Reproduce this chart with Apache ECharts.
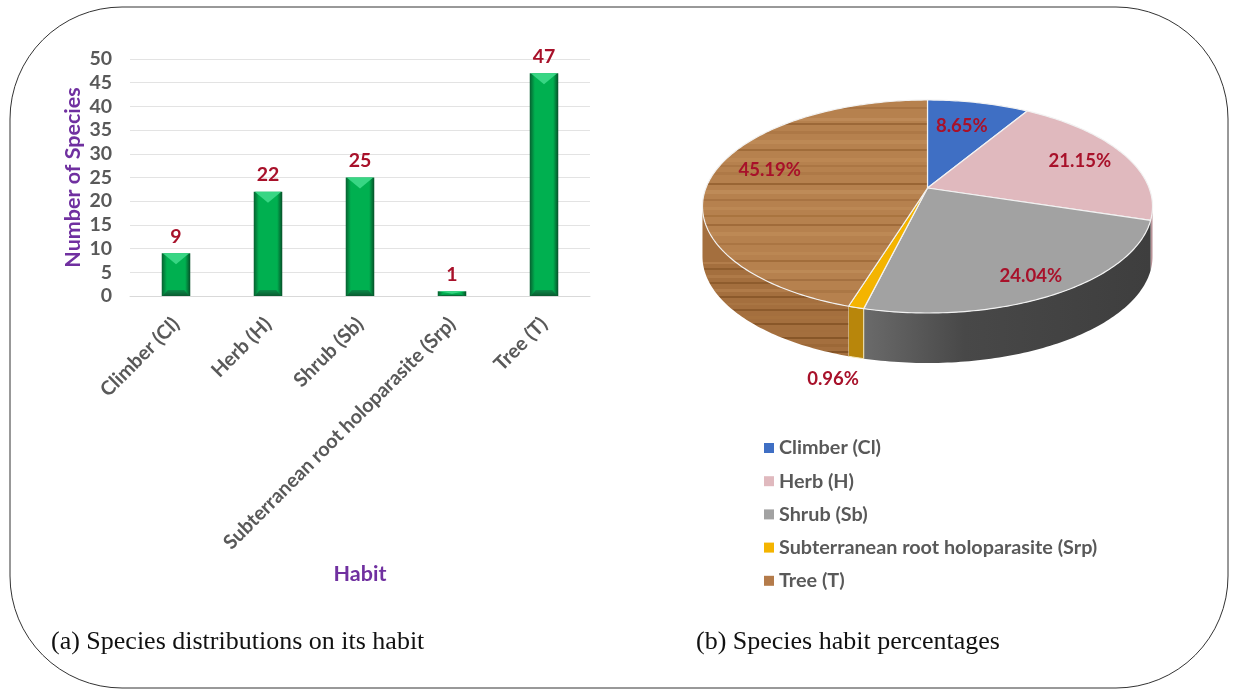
<!DOCTYPE html>
<html>
<head>
<meta charset="utf-8">
<style>html,body{margin:0;padding:0;background:#fff}#c{width:1238px;height:690px}</style>
<script src="https://cdn.jsdelivr.net/npm/echarts@6/dist/echarts.min.js"></script>
</head>
<body>
<div id="c"></div>
<script>
const categories = ['Climber (Cl)', 'Herb (H)', 'Shrub (Sb)', 'Subterranean root holoparasite (Srp)', 'Tree (T)'];
const speciesCounts = [9, 22, 25, 1, 47];
const habitPercents = [8.65, 21.15, 24.04, 0.96, 45.19];
const percentLabels = ['8.65%', '21.15%', '24.04%', '0.96%', '45.19%'];
const yTicks = {min: 0, max: 50, interval: 5};

const FONT = 'Lato';
const GREY = '#595959', PURPLE = '#7030A0', RED = '#A8112A';
const sliceColors = ['#3F6FC4', '#E0B9BE', '#A2A2A2', '#F4B400', '#B47B4A'];
const L = (x0, y0, x1, y1, st) => new echarts.graphic.LinearGradient(x0, y0, x1, y1, st, true);

// Wood grain: hard-edged thin lines over a base colour
function grain(y0, y1, base, lines) {
  const span = y1 - y0, stops = [{offset: 0, color: base}];
  lines.forEach(l => {
    const a = (l[0] - y0) / span, b = (l[0] + l[1] - y0) / span;
    stops.push({offset: a, color: base}, {offset: a + .001, color: l[2]}, {offset: b, color: l[2]}, {offset: b + .001, color: base});
  });
  stops.push({offset: 1, color: base});
  return L(0, y0, 0, y1, stops);
}
const woodTop = grain(100, 313, '#B6814E', [
  [107, 2, '#A97443'], [118, 3, '#BE8A58'], [123, 2, '#9C6838'], [131, 3, '#AD7846'], [140, 4, '#BD8955'], [149, 2, '#A06C3A'],
  [158, 4, '#BC8753'], [165, 2, '#AB7644'], [172, 3, '#AE7947'], [183, 2, '#996534'], [190, 4, '#BE8B58'], [199, 2, '#A87342'],
  [207, 3, '#BC8854'], [215, 2, '#A9743F'], [224, 2, '#A06B3A'], [232, 4, '#BD8955'], [243, 2, '#AA7543'], [252, 3, '#BB8753'],
  [260, 2, '#A26D3B'], [270, 3, '#BD8A56'], [279, 2, '#A47040'], [290, 3, '#AB7745']
]);
const woodSide = grain(222, 360, '#A46F3E', [
  [262, 2, '#B27D4B'], [268, 2, '#8F5D2E'], [275, 3, '#AF7A48'], [282, 2, '#8E5C2D'], [289, 3, '#B07B49'], [296, 2, '#8B592B'],
  [303, 2, '#A97543'], [309, 2, '#8C5A2C'], [316, 3, '#A7723F'], [323, 2, '#895729'], [330, 2, '#A36E3D'], [337, 2, '#875628'],
  [344, 3, '#9C6837'], [351, 2, '#855427']
]);
const topFills = [sliceColors[0], sliceColors[1], sliceColors[2], sliceColors[3], woodTop];
const sideFills = ['#3558A0', '#B99398', L(865, 0, 1150, 0, [{offset: 0, color: '#6A6A6A'}, {offset: .35, color: '#484848'}, {offset: 1, color: '#3E3E3E'}]), '#B8860B', woodSide];
const labelPlace = [[.7, -3, 0], [.77, 0, 0], [.83, 0, 3], [1, -23, 72], [.72, -3, -7]];

// 3D pie projection parameters
const P = {cx: 927.5, cy: 188, a: 221.6, b: 103.3, k: 0.1737, depth: 50};
function proj(theta, r) {
  const u = Math.sin(theta) * r, v = Math.cos(theta) * r, d = 1 + P.k * v;
  return [P.cx + P.a * u / d, P.cy - P.b * v / d];
}
function arc(t0, t1, dy) {
  const n = Math.max(2, Math.ceil(Math.abs(t1 - t0) * 60)), pts = [];
  for (let i = 0; i <= n; i++) {
    const p = proj(t0 + (t1 - t0) * i / n, 1);
    pts.push([p[0], p[1] + dy]);
  }
  return pts;
}
const total = habitPercents.reduce((a, b) => a + b, 0);
const starts = habitPercents.map((_, i) => habitPercents.slice(0, i).reduce((a, b) => a + b, 0));
const FRONT0 = 100 * Math.PI / 180, FRONT1 = 260 * Math.PI / 180;

function sliceRenderer(i) {
  return function (params, api) {
    const t0 = starts[i] / total * 2 * Math.PI;
    const t1 = t0 + api.value(0) / total * 2 * Math.PI;
    const children = [];
    const w0 = Math.max(t0, FRONT0), w1 = Math.min(t1, FRONT1);
    if (w1 > w0) {
      const pts = arc(w0, w1, 0).concat(arc(w1, w0, P.depth));
      children.push({type: 'polygon', shape: {points: pts}, style: {fill: sideFills[i], stroke: i === 3 ? '#F3E9C0' : null, lineWidth: 1}});
    }
    const pts = [[P.cx, P.cy]].concat(arc(t0, t1, 0));
    children.push({type: 'polygon', shape: {points: pts}, style: {fill: topFills[i], stroke: '#F2F2F2', lineWidth: 1.2, lineJoin: 'round'}});
    const lp = labelPlace[i], m = proj((t0 + t1) / 2, lp[0]);
    children.push({type: 'text', style: {x: m[0] + lp[1], y: m[1] + lp[2], text: percentLabels[i], fill: RED,
      font: 'bold 18.5px ' + FONT, align: 'center', verticalAlign: 'middle'}});
    return {type: 'group', children};
  };
}

function bevelRenderer(params, api) {
  const top = api.coord([api.value(0), api.value(1)]);
  const base = api.coord([api.value(0), 0]);
  const w = api.size([1, 0])[0] * 0.31, xl = top[0] - w / 2, xr = top[0] + w / 2;
  const h = base[1] - top[1], d = Math.min(11, h / 2), b = Math.min(6, h / 3);
  return {type: 'group', children: [
    {type: 'polygon', shape: {points: [[xl + 1, top[1]], [xr - 1, top[1]], [top[0], top[1] + d]]}, style: {fill: '#38D684'}},
    {type: 'polygon', shape: {points: [[xl + 1, base[1]], [xr - 1, base[1]], [xr - 6, base[1] - b], [xl + 6, base[1] - b]]},
      style: {fill: L(0, base[1] - b, 0, base[1], [{offset: 0, color: '#0A8A48'}, {offset: 1, color: '#0A5A30'}])}}
  ]};
}

const sliceSeries = categories.map((name, i) => ({
  type: 'custom', name, coordinateSystem: 'none', silent: true, z: 3,
  itemStyle: {color: sliceColors[i]},
  data: [[habitPercents[i]]],
  renderItem: sliceRenderer(i)
}));

const chart = echarts.init(document.getElementById('c'), null, {renderer: 'canvas'});
chart.setOption({
  animation: false,
  backgroundColor: '#fff',
  textStyle: {fontFamily: FONT},
  graphic: [
    {type: 'rect', shape: {x: 10, y: 7, width: 1218, height: 681, r: 112}, style: {fill: 'none', stroke: '#333', lineWidth: 1}, silent: true, z: 0},
    {type: 'text', x: 51, y: 642, style: {text: '(a) Species distributions on its habit', font: '26px "Liberation Serif"', fill: '#111', verticalAlign: 'middle'}, silent: true},
    {type: 'text', x: 696, y: 642, style: {text: '(b) Species habit percentages', font: '26px "Liberation Serif"', fill: '#111', verticalAlign: 'middle'}, silent: true}
  ],
  grid: {left: 130, top: 59, width: 460, height: 237, containLabel: false},
  legend: {
    orient: 'vertical', left: 759, top: 433, itemWidth: 10, itemHeight: 10, itemGap: 13.2,
    icon: 'rect', selectedMode: false, data: categories,
    textStyle: {fontFamily: FONT, fontWeight: 'bold', fontSize: 19.8, color: GREY, lineHeight: 20}
  },
  xAxis: {
    type: 'category', data: categories,
    name: 'Habit', nameLocation: 'middle', nameGap: 267, nameMoveOverlap: false,
    nameTextStyle: {fontFamily: FONT, fontWeight: 'bold', fontSize: 21.5, color: PURPLE},
    axisLine: {lineStyle: {color: '#D9D9D9'}}, axisTick: {show: false},
    axisLabel: {rotate: 45, interval: 0, margin: 25, fontFamily: FONT, fontWeight: 'bold', fontSize: 19.8, color: GREY}
  },
  yAxis: {
    type: 'value', min: yTicks.min, max: yTicks.max, interval: yTicks.interval,
    name: 'Number of Species', nameLocation: 'middle', nameGap: 46, nameRotate: 90, nameMoveOverlap: false,
    nameTextStyle: {fontFamily: FONT, fontWeight: 'bold', fontSize: 21.5, color: PURPLE},
    axisLine: {show: false}, axisTick: {show: false},
    splitLine: {lineStyle: {color: '#E3E3E3', width: 1}},
    axisLabel: {margin: 18, fontFamily: FONT, fontWeight: 'bold', fontSize: 19.5, color: GREY}
  },
  series: [
    {
      type: 'bar', name: 'Number of Species', data: speciesCounts, barWidth: '31%', z: 2,
      itemStyle: {color: {type: 'linear', x: 0, y: 0, x2: 1, y2: 0, colorStops: [
        {offset: 0, color: '#075F30'}, {offset: .18, color: '#00B050'}, {offset: .82, color: '#00B050'}, {offset: 1, color: '#064F28'}]}},
      label: {show: true, position: 'top', distance: 7, fontFamily: FONT, fontWeight: 'bold', fontSize: 19.5, color: RED}
    },
    {
      type: 'custom', name: 'bevel', silent: true, z: 3, renderItem: bevelRenderer,
      encode: {x: 0, y: 1}, data: speciesCounts.map((v, i) => [i, v])
    }
  ].concat(sliceSeries)
});
</script>
</body>
</html>
